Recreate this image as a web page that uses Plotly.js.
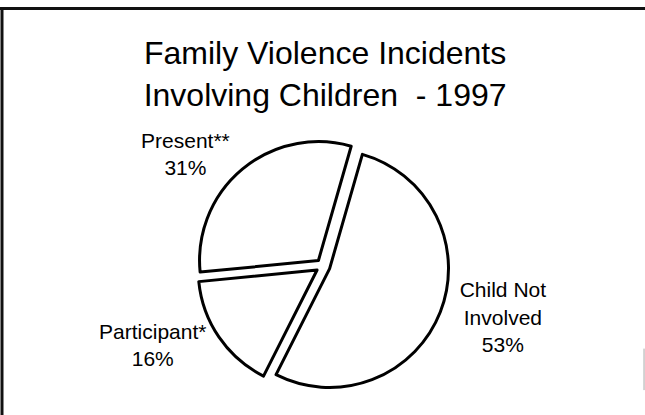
<!DOCTYPE html>
<html>
<head>
<meta charset="utf-8">
<script src="https://cdn.plot.ly/plotly-3.0.1.min.js"></script>
<style>
html,body{margin:0;padding:0;background:#fff;}
#chart{width:645px;height:415px;}
</style>
</head>
<body>
<div id="chart"></div>
<script>
const categories = ['Child Not<br>Involved', 'Participant*', 'Present**'];
const shares = [53, 16, 31];
const titleLines = ['Family Violence Incidents', 'Involving Children\u00a0 - 1997'];

const trace = {
  type: 'pie',
  labels: categories,
  values: shares,
  sort: false,
  direction: 'clockwise',
  rotation: 16,
  pull: 0.06,
  marker: {colors: ['#ffffff', '#ffffff', '#ffffff'], line: {color: '#000000', width: 3}},
  textinfo: 'label+percent',
  textposition: 'outside',
  textfont: {family: 'Liberation Sans, Arial, sans-serif', size: 21, color: '#000'},
  hoverinfo: 'none',
  showlegend: false,
  domain: {x: [0.3054, 0.6961], y: [0.0554, 0.6627]}
};

const layout = {
  width: 645,
  height: 415,
  margin: {l: 0, r: 0, t: 0, b: 0},
  paper_bgcolor: '#ffffff',
  plot_bgcolor: '#ffffff',
  font: {family: 'Liberation Sans, Arial, sans-serif', color: '#000'},
  title: {
    text: titleLines.join('<br>'),
    font: {family: 'Liberation Sans, Arial, sans-serif', size: 32, color: '#000'},
    x: 0.504, xanchor: 'center', xref: 'paper',
    y: 0.846, yanchor: 'middle', yref: 'container'
  },
  shapes: [
    {type: 'line', xref: 'paper', yref: 'paper', x0: 0, x1: 1, y0: 0.9795, y1: 0.9795, line: {color: '#111', width: 3}},
    {type: 'line', xref: 'paper', yref: 'paper', x0: 0.0031, x1: 0.0031, y0: 0, y1: 0.9795, line: {color: '#111', width: 3}},
    {type: 'line', xref: 'paper', yref: 'paper', x0: 0.9985, x1: 0.9985, y0: 0.06, y1: 0.16, line: {color: '#aaa', width: 1}}
  ]
};

Plotly.newPlot('chart', [trace], layout, {displayModeBar: false, staticPlot: true});
</script>
</body>
</html>
